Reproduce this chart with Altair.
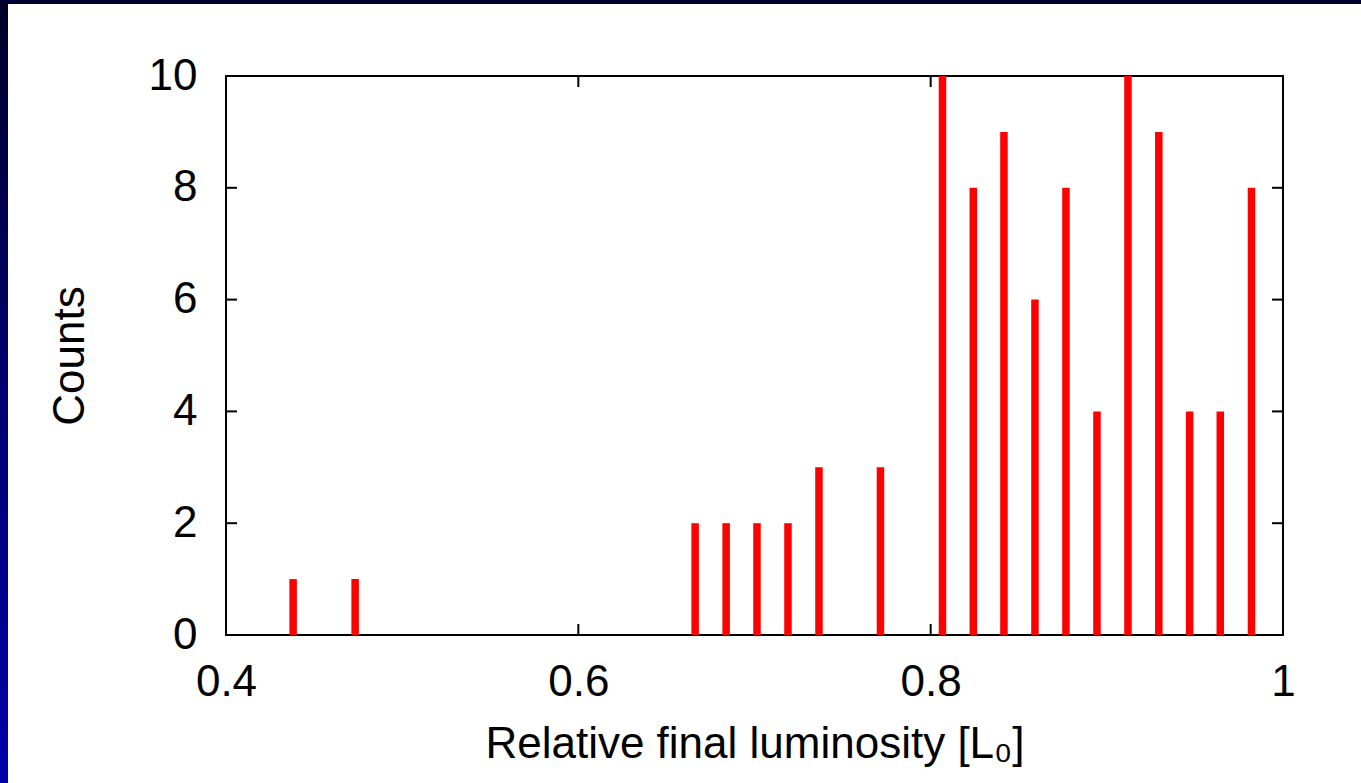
import altair as alt
import pandas as pd

# Data
centers = [0.4381, 0.4733, 0.6663, 0.6839, 0.7014, 0.7190, 0.7366, 0.7715,
           0.8067, 0.8242, 0.8416, 0.8592, 0.8768, 0.8944, 0.9120, 0.9295,
           0.9470, 0.9644, 0.9821]
counts = [1, 1, 2, 2, 2, 2, 3, 3, 10, 8, 9, 6, 8, 4, 10, 9, 4, 4, 8]
x_ticks = [0.4, 0.6, 0.8, 1.0]
y_ticks = [0, 2, 4, 6, 8, 10]

W, H = 1057, 559
PAD_L, PAD_T, PAD_R, PAD_B = 226, 76, 78, 148
TICK = 11
FONT = "Liberation Sans"
FS = 44

bars_df = pd.DataFrame({"x": centers, "y": counts})
xt_df = pd.DataFrame({"x": x_ticks})
yt_df = pd.DataFrame({"y": y_ticks})
one = pd.DataFrame({"k": [0]})

xscale = alt.Scale(domain=[0.4, 1.0], nice=False, zero=False, padding=0)
yscale = alt.Scale(domain=[0, 10], nice=False, padding=0)

x_enc = alt.X("x:Q", scale=xscale, title="Relative final luminosity [L₀]",
              axis=alt.Axis(values=x_ticks, format="~g", ticks=False, domain=False,
                            grid=False, labelPadding=25, labelFontSize=FS,
                            labelFont=FONT, labelColor="black", titleFont=FONT,
                            titleFontSize=FS, titleFontWeight="normal",
                            titleColor="black", titleBaseline="alphabetic",
                            titleY=122, labelFlush=False))
y_enc = alt.Y("y:Q", scale=yscale, title="Counts",
              axis=alt.Axis(values=y_ticks, ticks=False, domain=False, grid=False,
                            labelPadding=29, labelFontSize=FS, labelFont=FONT,
                            labelColor="black", titleFont=FONT, titleFontSize=FS,
                            titleFontWeight="normal", titleColor="black",
                            titleBaseline="alphabetic", titleX=-143,
                            labelFlush=False))

bars = alt.Chart(bars_df).mark_bar(color="#ff0000", size=7.5).encode(
    x=x_enc, y=y_enc)

rule_kw = dict(color="black", strokeWidth=2)
xt_bottom = alt.Chart(xt_df).mark_rule(**rule_kw).encode(
    x=x_enc, y=alt.value(H), y2=alt.value(H - TICK))
xt_top = alt.Chart(xt_df).mark_rule(**rule_kw).encode(
    x=x_enc, y=alt.value(0), y2=alt.value(TICK))
yt_left = alt.Chart(yt_df).mark_rule(**rule_kw).encode(
    y=y_enc, x=alt.value(0), x2=alt.value(TICK))
yt_right = alt.Chart(yt_df).mark_rule(**rule_kw).encode(
    y=y_enc, x=alt.value(W), x2=alt.value(W - TICK))

# Decorative slide border (dark blue strips on the left and top)
grad = alt.LinearGradient(
    gradient="linear", x1=0, y1=0, x2=0, y2=1,
    stops=[alt.GradientStop(offset=0, color="#00002a"),
           alt.GradientStop(offset=0.5, color="#000070"),
           alt.GradientStop(offset=1, color="#0000aa")])
left_strip = alt.Chart(one).mark_rect(color=grad).encode(
    x=alt.value(-PAD_L), x2=alt.value(-PAD_L + 8),
    y=alt.value(-PAD_T), y2=alt.value(H + PAD_B))
top_strip = alt.Chart(one).mark_rect(color="#000030").encode(
    x=alt.value(-PAD_L), x2=alt.value(W + PAD_R),
    y=alt.value(-PAD_T), y2=alt.value(-PAD_T + 4))

chart = alt.layer(
    bars, xt_bottom, xt_top, yt_left, yt_right, left_strip, top_strip
).properties(
    width=W, height=H,
    autosize=alt.AutoSizeParams(type="none"),
    padding={"left": PAD_L, "top": PAD_T, "right": PAD_R, "bottom": PAD_B},
    background="white",
).configure_view(stroke="black", strokeWidth=2, fill="white")

chart.save("out.html", embed_options={"renderer": "svg", "actions": False})
